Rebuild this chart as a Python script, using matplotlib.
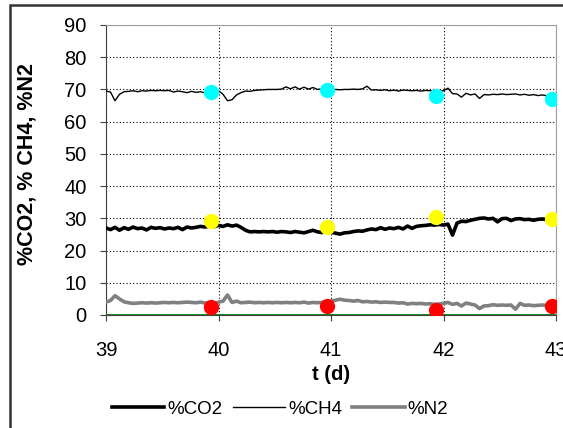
import numpy as np
import matplotlib
matplotlib.use("Agg")
import matplotlib.pyplot as plt
from matplotlib.patches import Rectangle

plt.rcParams["font.family"] = ["Liberation Sans", "DejaVu Sans"]

# online gas composition, sampled every 0.04 d from day 39 to day 43
t_start, t_step, n_pts = 39.0, 0.04, 101
t = np.round(t_start + t_step * np.arange(n_pts), 2)

co2 = [27.0, 26.5, 27.2, 26.3, 27.1, 26.6, 27.3, 26.8, 27.0, 26.4,
       27.2, 26.9, 27.1, 26.7, 27.0, 26.8, 27.2, 26.5, 27.3, 27.0,
       27.2, 27.5, 27.3, 27.6, 27.4, 27.8, 27.5, 28.0, 27.6, 27.9,
       27.2, 26.3, 25.8, 25.9, 25.8, 25.9, 25.8, 25.9, 25.7, 25.9,
       25.8, 25.6, 25.9, 25.7, 25.5, 25.9, 26.3, 25.8, 25.6, 25.8,
       25.7, 25.4, 25.1, 25.5, 25.6, 25.9, 26.1, 26.0, 26.4, 26.7,
       26.5, 27.1, 26.6, 27.0, 26.8, 27.2, 26.7, 27.6, 26.9, 27.5,
       27.7, 27.8, 28.0, 27.9, 28.1, 27.9, 28.2, 24.8, 28.5, 29.1,
       29.0, 29.4, 29.7, 30.0, 30.1, 29.8, 30.0, 28.9, 29.9, 30.0,
       29.3, 29.8, 29.9, 29.6, 29.7, 29.4, 29.7, 29.8, 29.6, 29.8,
       29.7]

ch4 = [69.5, 69.2, 66.5, 68.5, 69.3, 69.4, 69.6, 69.3, 69.6, 69.5,
       69.7, 69.6, 69.7, 69.6, 69.7, 69.2, 69.5, 69.3, 69.0, 69.4,
       69.1, 69.3, 68.9, 69.3, 69.5, 69.6, 68.5, 66.5, 66.8, 68.3,
       69.0, 69.5, 69.4, 69.7, 69.8, 69.9, 70.0, 70.0, 70.0, 70.1,
       70.8, 70.2, 70.8, 70.1, 70.7, 70.1, 70.6, 70.0, 70.2, 70.0,
       69.9, 70.0, 69.9, 70.0, 70.0, 70.1, 70.0, 70.2, 71.0, 69.8,
       69.9, 69.7, 69.9, 69.6, 69.8, 69.5, 69.8, 69.7, 69.6, 69.7,
       69.5, 69.7, 69.6, 69.4, 69.5, 69.6, 70.4, 68.7, 68.6, 67.6,
       68.8, 68.3, 68.6, 67.2, 68.4, 68.3, 68.5, 68.4, 68.6, 68.4,
       68.5, 68.6, 68.3, 68.5, 68.2, 68.4, 68.1, 68.3, 68.0, 68.1,
       67.8]

n2 = [4.0, 4.5, 6.0, 5.0, 4.1, 3.8, 3.6, 3.7, 3.8, 3.7,
      3.8, 3.7, 3.8, 3.9, 3.8, 3.9, 3.8, 3.9, 4.0, 3.9,
      3.8, 4.0, 3.7, 3.9, 3.6, 4.0, 4.3, 6.2, 3.9, 4.3,
      3.8, 3.9, 4.0, 3.8, 3.9, 3.8, 3.9, 3.8, 3.9, 3.8,
      3.9, 3.8, 3.9, 3.8, 4.0, 3.7, 3.9, 3.8, 3.9, 4.0,
      4.3, 4.6, 4.9, 4.6, 4.5, 4.3, 4.5, 4.1, 4.2, 4.0,
      4.1, 3.9, 4.0, 3.9, 3.9, 3.7, 3.8, 3.4, 3.6, 3.5,
      3.6, 3.4, 3.5, 3.3, 3.4, 3.6, 3.9, 3.3, 3.6, 2.8,
      3.7, 3.4, 3.1, 2.0, 2.8, 2.9, 3.2, 3.0, 3.1, 3.0,
      3.1, 1.8, 3.6, 3.0, 3.1, 2.9, 3.0, 3.1, 2.9, 3.0,
      3.1]

# offline GC samples
t_gc = [39.93, 40.96, 41.93, 42.96]
ch4_gc = [69.2, 69.8, 68.1, 67.0]
co2_gc = [29.3, 27.2, 30.3, 29.7]
n2_gc = [2.4, 2.8, 1.6, 2.9]

fig = plt.figure(figsize=(5.63, 4.28), dpi=100)
ax = fig.add_axes([106 / 563, 1 - 315 / 428, 450 / 563, 290 / 428])

ax.plot(t, co2, color="black", lw=2.6, label="%CO2", zorder=3)
ax.plot(t, ch4, color="black", lw=1.0, label="%CH4", zorder=3)
ax.plot(t, n2, color="#808080", lw=2.6, label="%N2", zorder=3)
ax.axhline(0, color="#008000", lw=2, zorder=2)

ax.plot(t_gc, ch4_gc, "o", color="#00ffff", ms=11, mec="none", zorder=4)
ax.plot(t_gc, co2_gc, "o", color="#ffff00", ms=11, mec="none", zorder=4)
ax.plot(t_gc, n2_gc, "o", color="#ff0000", ms=11, mec="none", zorder=4)

ax.set_xlim(39, 43)
ax.set_ylim(0, 90)
ax.set_xticks([39, 40, 41, 42, 43])
ax.set_yticks(range(0, 100, 10))
ax.grid(True, color="black", lw=0.8, ls=(0, (1, 2)))
ax.set_axisbelow(True)

ax.spines["top"].set_color("#a0a0a0")
ax.spines["right"].set_color("#a0a0a0")
ax.spines["left"].set_color("#404040")
ax.spines["bottom"].set_color("#404040")
ax.tick_params(axis="both", labelsize=14.5, length=4, color="#404040")
ax.tick_params(axis="y", pad=10)
ax.tick_params(axis="x", pad=15)

ax.set_xlabel("t (d)", fontsize=14.5, fontweight="bold", labelpad=3)
ax.set_ylabel("%CO2, % CH4, %N2", fontsize=15.5, fontweight="bold")
ax.yaxis.set_label_coords(-0.153, 0.52)

fig.legend(loc="center", bbox_to_anchor=(280 / 563, 1 - 409 / 428), ncol=3,
           frameon=False, fontsize=13.5, handlelength=2.8, handletextpad=0.15,
           columnspacing=0.55)

# outer chart border
fig.add_artist(Rectangle((10 / 563, -0.2), 1.5, 1.2 - 5 / 428,
                         transform=fig.transFigure, fill=False,
                         ec="#333333", lw=1.8))

fig.savefig("out.png", dpi=100)
